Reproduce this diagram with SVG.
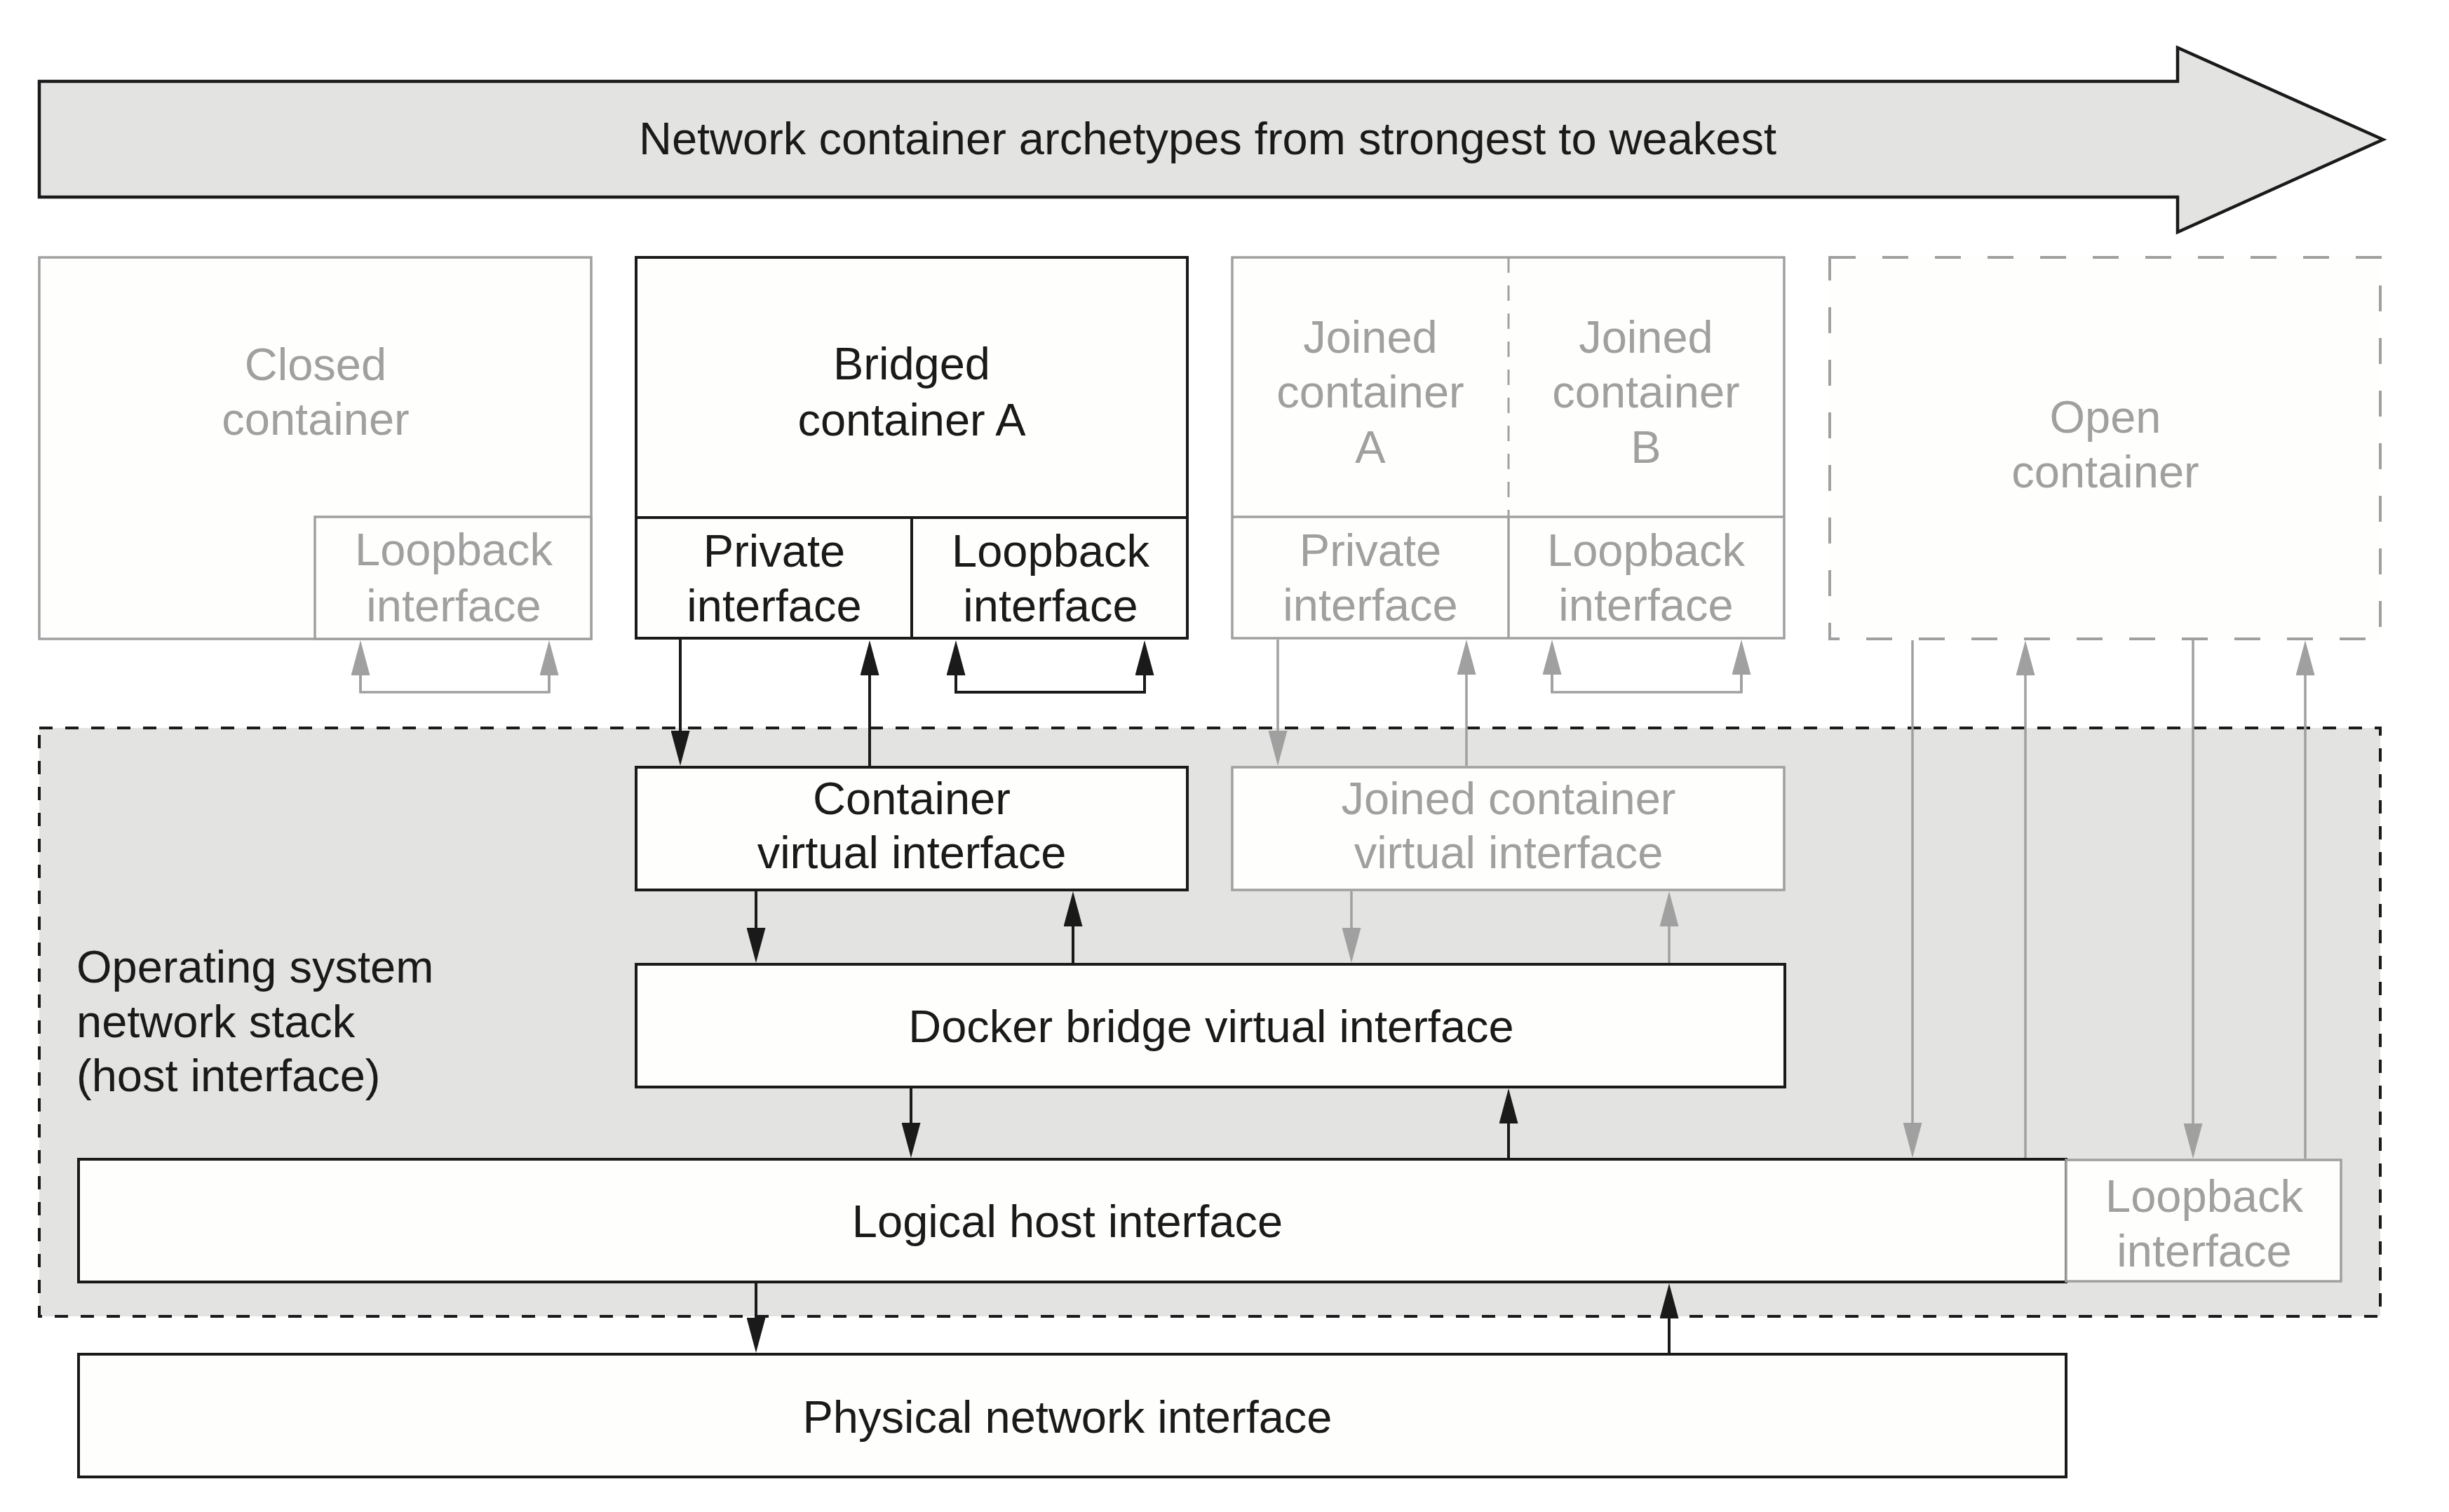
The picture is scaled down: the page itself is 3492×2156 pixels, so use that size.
<svg xmlns="http://www.w3.org/2000/svg" width="3492" height="2156" viewBox="0 0 3492 2156">
<style>
.t{font-family:"Liberation Sans",Arial,Helvetica,sans-serif;font-size:65px;text-anchor:middle}
.tl{font-family:"Liberation Sans",Arial,Helvetica,sans-serif;font-size:65px;text-anchor:start}
.dk{fill:#1a1a1a}
.gr{fill:#a0a0a0}
.bb{fill:#fefefc;stroke:#1a1a1a;stroke-width:4}
.gb{fill:#fefefc;stroke:#a0a0a0;stroke-width:3.5}
.bl{stroke:#1a1a1a;stroke-width:4;fill:none}
.gl{stroke:#a0a0a0;stroke-width:3.5;fill:none}
.ab{stroke:#1a1a1a;stroke-width:4;fill:none;marker-end:url(#hb)}
.ag{stroke:#a0a0a0;stroke-width:3.5;fill:none;marker-end:url(#hg)}
</style>
<defs>
<marker id="hb" markerUnits="userSpaceOnUse" viewBox="0 0 50 27" markerWidth="50" markerHeight="27" refX="40" refY="13.5" orient="auto"><path d="M0,0 L50,13.5 L0,27 z" fill="#1a1a1a"/></marker>
<marker id="hg" markerUnits="userSpaceOnUse" viewBox="0 0 50 27" markerWidth="50" markerHeight="27" refX="40" refY="13.5" orient="auto"><path d="M0,0 L50,13.5 L0,27 z" fill="#a0a0a0"/></marker>
</defs>
<rect width="3492" height="2156" fill="#ffffff"/>

<g id="title-arrow">
<polygon points="56,116 3105,116 3105,68 3398,199 3105,331 3105,281 56,281" fill="#e3e3e1" stroke="#1a1a1a" stroke-width="4.5"/>
<text class="t dk" x="1722" y="220">Network container archetypes from strongest to weakest</text>
</g>

<g id="os-network-stack">
<rect x="56" y="1038" width="3338" height="839" fill="#e3e3e1" stroke="#1a1a1a" stroke-width="4" stroke-dasharray="19 18"/>
<text class="tl dk" x="109" y="1401">Operating system</text>
<text class="tl dk" x="109" y="1479">network stack</text>
<text class="tl dk" x="109" y="1556">(host interface)</text>
</g>

<g id="closed-container">
<rect class="gb" x="56" y="367" width="787" height="544"/>
<text class="t gr" x="450" y="542">Closed</text>
<text class="t gr" x="450" y="620">container</text>
</g>
<g id="closed-loopback">
<rect class="gb" x="449" y="737" width="394" height="174"/>
<text class="t gr" x="647" y="806">Loopback</text>
<text class="t gr" x="647" y="886">interface</text>
</g>

<g id="bridged-container">
<rect class="bb" x="907" y="367" width="786" height="543"/>
<line class="bl" x1="907" y1="738" x2="1693" y2="738"/>
<text class="t dk" x="1300" y="541">Bridged</text>
<text class="t dk" x="1300" y="621">container A</text>
</g>
<g id="bridged-private">
<line class="bl" x1="1300" y1="738" x2="1300" y2="910"/>
<text class="t dk" x="1104" y="808">Private</text>
<text class="t dk" x="1104" y="886">interface</text>
</g>
<g id="bridged-loopback">
<text class="t dk" x="1498" y="808">Loopback</text>
<text class="t dk" x="1498" y="886">interface</text>
</g>

<g id="joined-containers">
<rect class="gb" x="1757" y="367" width="787" height="543"/>
<line class="gl" x1="1757" y1="737" x2="2544" y2="737"/>
<line x1="2151" y1="367" x2="2151" y2="737" stroke="#a0a0a0" stroke-width="3" stroke-dasharray="22 18"/>
<text class="t gr" x="1954" y="503">Joined</text>
<text class="t gr" x="1954" y="581">container</text>
<text class="t gr" x="1954" y="660">A</text>
<text class="t gr" x="2347" y="503">Joined</text>
<text class="t gr" x="2347" y="581">container</text>
<text class="t gr" x="2347" y="660">B</text>
</g>
<g id="joined-private">
<line class="gl" x1="2151" y1="737" x2="2151" y2="910"/>
<text class="t gr" x="1954" y="807">Private</text>
<text class="t gr" x="1954" y="885">interface</text>
</g>
<g id="joined-loopback">
<text class="t gr" x="2347" y="807">Loopback</text>
<text class="t gr" x="2347" y="885">interface</text>
</g>

<g id="open-container">
<rect x="2609" y="367" width="785" height="544" fill="#fefefc" stroke="#a0a0a0" stroke-width="4" stroke-dasharray="37 38"/>
<text class="t gr" x="3002" y="617">Open</text>
<text class="t gr" x="3002" y="695">container</text>
</g>

<g id="container-virtual-interface">
<rect class="bb" x="907" y="1094" width="786" height="175"/>
<text class="t dk" x="1300" y="1161">Container</text>
<text class="t dk" x="1300" y="1238">virtual interface</text>
</g>

<g id="joined-container-virtual-interface">
<rect class="gb" x="1757" y="1094" width="787" height="175"/>
<text class="t gr" x="2151" y="1161">Joined container</text>
<text class="t gr" x="2151" y="1238">virtual interface</text>
</g>

<g id="docker-bridge">
<rect class="bb" x="907" y="1375" width="1638" height="175"/>
<text class="t dk" x="1727" y="1486">Docker bridge virtual interface</text>
</g>

<g id="logical-host-interface">
<rect class="bb" x="112" y="1653" width="2834" height="175"/>
<text class="t dk" x="1522" y="1764">Logical host interface</text>
</g>

<g id="host-loopback">
<rect class="gb" x="2946" y="1654" width="392" height="173"/>
<text class="t gr" x="3143" y="1728">Loopback</text>
<text class="t gr" x="3143" y="1806">interface</text>
</g>

<g id="physical-network-interface">
<rect class="bb" x="112" y="1931" width="2834" height="175"/>
<text class="t dk" x="1522" y="2043">Physical network interface</text>
</g>

<g id="connectors">
<line class="ab" x1="970" y1="912" x2="970" y2="1082"/>
<line class="ab" x1="1240" y1="1092" x2="1240" y2="923"/>
<polyline class="bl" points="1363,960 1363,987 1632,987 1632,960"/>
<line class="ab" x1="1363" y1="987" x2="1363" y2="923"/>
<line class="ab" x1="1632" y1="987" x2="1632" y2="923"/>
<line class="ab" x1="1078" y1="1271" x2="1078" y2="1363"/>
<line class="ab" x1="1530" y1="1373" x2="1530" y2="1281"/>
<line class="ab" x1="1299" y1="1552" x2="1299" y2="1641"/>
<line class="ab" x1="2151" y1="1651" x2="2151" y2="1562"/>
<line class="ab" x1="1078" y1="1830" x2="1078" y2="1919"/>
<line class="ab" x1="2380" y1="1929" x2="2380" y2="1840"/>

<polyline class="gl" points="514,960 514,987 783,987 783,960"/>
<line class="ag" x1="514" y1="987" x2="514" y2="923"/>
<line class="ag" x1="783" y1="987" x2="783" y2="923"/>
<line class="ag" x1="1822" y1="912" x2="1822" y2="1082"/>
<line class="ag" x1="2091" y1="1092" x2="2091" y2="922"/>
<polyline class="gl" points="2213,960 2213,987 2483,987 2483,960"/>
<line class="ag" x1="2213" y1="987" x2="2213" y2="922"/>
<line class="ag" x1="2483" y1="987" x2="2483" y2="922"/>
<line class="ag" x1="1927" y1="1271" x2="1927" y2="1363"/>
<line class="ag" x1="2380" y1="1373" x2="2380" y2="1281"/>
<line class="ag" x1="2727" y1="913" x2="2727" y2="1641"/>
<line class="ag" x1="2888" y1="1651" x2="2888" y2="923"/>
<line class="ag" x1="3127" y1="913" x2="3127" y2="1642"/>
<line class="ag" x1="3287" y1="1652" x2="3287" y2="923"/>
</g>
</svg>
